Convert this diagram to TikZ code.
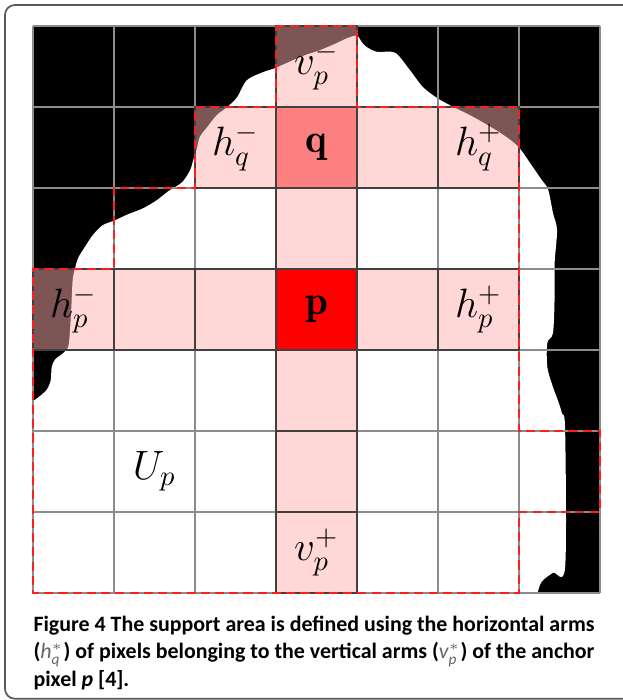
\documentclass[tikz,border=0pt]{standalone}
\usepackage{xcolor}
\usepackage{amsmath}
\usepackage{fontspec}
\newfontfamily\captionfont{Carlito}
\usetikzlibrary{positioning}

\definecolor{armpink}{RGB}{255,175,175}
\definecolor{qred}{RGB}{255,128,128}
\definecolor{gridgray}{RGB}{140,140,140}
\definecolor{outlinered}{RGB}{255,30,30}

\begin{document}
\begin{tikzpicture}[
    x=1cm, y=1cm,
    every node/.style={font=\Large},
    gridline/.style={draw=gridgray, line width=0.4pt},
    armcell/.style={fill=armpink, fill opacity=0.49},
    cellborder/.style={draw=black!75, line width=0.6pt},
    support/.style={draw=outlinered, line width=0.8pt, dash pattern=on 3.2pt off 1.8pt}
]

% Page size
\useasboundingbox (-0.407,0.321) rectangle (7.284,-8.321);

% Figure frame
\draw[black!65, line width=0.6pt, rounded corners=3.5pt] (-0.346,0.259) rectangle (7.6,-8.305);

% Background and object
\fill[black] (0,0) rectangle (7,-7);
\fill[white] (0,-7) -- plot[smooth, tension=0.5] coordinates {
    (0,-4.63) (0.06,-4.59) (0.17,-4.49) (0.22,-4.37) (0.23,-4.22) (0.27,-4.12)
    (0.37,-4.04) (0.44,-3.94) (0.47,-3.54) (0.49,-3.14) (0.52,-2.99) (0.56,-2.86)
    (0.64,-2.73) (0.74,-2.58) (0.86,-2.46) (1.01,-2.40) (1.16,-2.33) (1.36,-2.25)
    (1.53,-2.15) (1.67,-2.04) (1.84,-1.93) (1.94,-1.78) (1.98,-1.65) (2.02,-1.53)
    (2.06,-1.37) (2.15,-1.25) (2.27,-1.10) (2.40,-1.00) (2.52,-0.88) (2.64,-0.67)
    (2.84,-0.57) (2.99,-0.52) (3.17,-0.44) (3.36,-0.36) (3.54,-0.30) (3.73,-0.22)
    (3.88,-0.15) (4.00,-0.12) (4.06,-0.20) (4.12,-0.26) (4.25,-0.32) (4.47,-0.33)
    (4.65,-0.54) (4.81,-0.75) (4.99,-0.89) (5.19,-1.00) (5.43,-1.12) (5.77,-1.32)
    (5.99,-1.49) (6.17,-1.74) (6.28,-1.90) (6.36,-2.02) (6.42,-2.31) (6.47,-2.52)
    (6.44,-2.93) (6.44,-3.35) (6.42,-3.79) (6.35,-3.91) (6.35,-4.21) (6.42,-4.46)
    (6.48,-4.62) (6.53,-4.78) (6.57,-4.99) (6.57,-6.68) (6.42,-6.75) (6.28,-6.86)
    (6.23,-7)} -- cycle;

% Arms of p and q
\foreach \r in {0,2,4,5,6} \fill[armcell] (3,-\r) rectangle ++(1,-1);
\foreach \c in {2,4,5} \fill[armcell] (\c,-1) rectangle ++(1,-1);
\foreach \c in {0,1,2,4,5} \fill[armcell] (\c,-3) rectangle ++(1,-1);
\fill[qred] (3,-1) rectangle ++(1,-1);
\fill[red] (3,-3) rectangle ++(1,-1);

% Pixel grid
\draw[gridline] (0,-7) grid (7,0);

% Borders of the arm cells
\foreach \r in {0,...,6} \draw[cellborder] (3,-\r) rectangle ++(1,-1);
\foreach \c in {2,4,5} \draw[cellborder] (\c,-1) rectangle ++(1,-1);
\foreach \c in {0,1,2,4,5} \draw[cellborder] (\c,-3) rectangle ++(1,-1);

% Support area
\draw[support] (3,0) -- (4,0) -- (4,-1) -- (6,-1) -- (6,-5) -- (7,-5) -- (7,-6)
    -- (6,-6) -- (6,-7) -- (0,-7) -- (0,-3) -- (1,-3) -- (1,-2) -- (2,-2)
    -- (2,-1) -- (3,-1) -- cycle;

% Labels
\node (vminus) at (3.5,-0.5) {$v_p^-$};
\node (hqminus) at (2.5,-1.5) {$h_q^-$};
\node (q) at (3.5,-1.5) {$\mathbf{q}$};
\node (hqplus) at (5.5,-1.5) {$h_q^+$};
\node (hpminus) at (0.5,-3.5) {$h_p^-$};
\node (p) at (3.5,-3.5) {$\mathbf{p}$};
\node (hpplus) at (5.5,-3.5) {$h_p^+$};
\node (U) at (1.5,-5.5) {$U_p$};
\node (vplus) at (3.5,-6.5) {$v_p^+$};

% Caption
\node[anchor=north west, inner sep=0pt, align=left,
      font=\captionfont\fontsize{7.7}{9.6}\selectfont\bfseries] (caption) at (0,-7.28)
    {Figure 4 The support area is defined using the horizontal arms\\
     ({\mdseries\color{black!60}$\textit{h}^{*}_{\textit{q}}$}) of pixels belonging to the vertical arms
     ({\mdseries\color{black!60}$\textit{v}^{*}_{\textit{p}}$}) of the anchor\\
     pixel \textit{p} [4].};

\end{tikzpicture}
\end{document}
